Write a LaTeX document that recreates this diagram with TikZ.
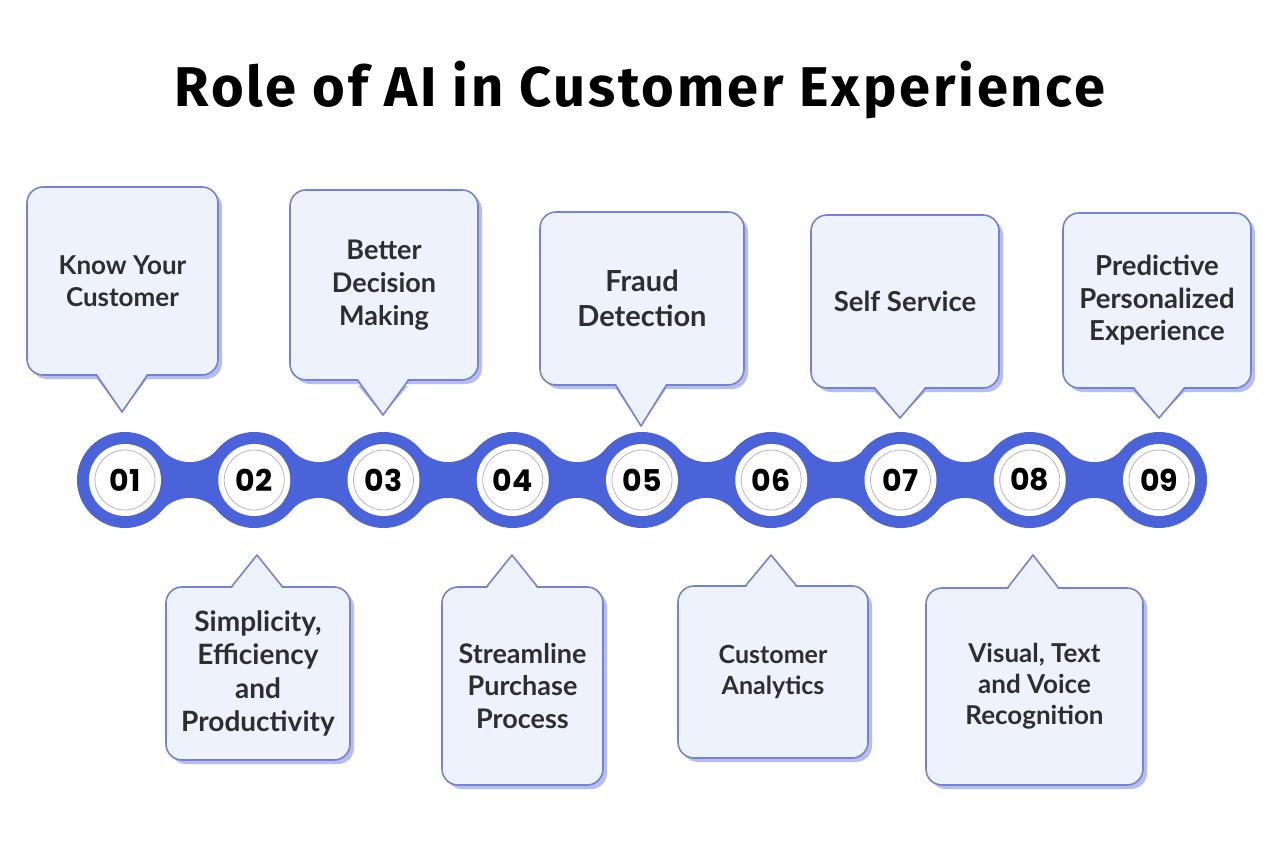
\documentclass[tikz,border=0pt]{standalone}
\usepackage{fontspec}
\setmainfont{Lato}
\newfontfamily\titlefont[LetterSpace=5]{Fira Sans}
\newfontfamily\numfont{Poppins}
\usepackage{xcolor}
\usetikzlibrary{calc,shadows}

\definecolor{chainblue}{HTML}{4A63D8}
\definecolor{boxfill}{HTML}{EEF2FC}
\definecolor{boxline}{HTML}{7482D6}
\definecolor{boxshade}{HTML}{B6BEF0}
\definecolor{ringgray}{HTML}{B4B4CC}
\definecolor{textgray}{HTML}{2E2E2E}

\tikzset{
  bubble/.style={draw=boxline, fill=boxfill, line width=1.6pt, rounded corners=16pt,
    align=center, text=textgray, inner sep=0pt,
    font=\bfseries\fontsize{26}{32}\selectfont,
    drop shadow={shadow xshift=4pt, shadow yshift=-4pt, fill=boxshade, opacity=1}},
  txt/.style 2 args={font=\bfseries\fontsize{#1}{#2}\selectfont},
  tailfill/.style={fill=boxfill},
  tailline/.style={draw=boxline, line width=1.6pt, line join=round},
  tailshade/.style={fill=boxshade, xshift=4pt, yshift=-4pt},
  knob/.style={circle, fill=chainblue, minimum size=96pt, inner sep=0pt},
  face/.style={circle, fill=white, minimum size=72pt, inner sep=0pt,
    font=\numfont\bfseries\fontsize{30}{30}\selectfont},
  ring/.style={draw=ringgray, line width=0.8pt}
}

\begin{document}
\begin{tikzpicture}[x=1pt,y=-1pt]
\useasboundingbox (0,0) rectangle (1280,850);

\node[font=\titlefont\bfseries\fontsize{56}{64}\selectfont] (title) at (640,90) {Role of AI in Customer Experience};

% chain
\fill[chainblue] (161.7,449) rectangle (1122.3,511);
\fill[white] (189.6,425.3) circle (36.7) (189.6,534.7) circle (36.7)
  (318.9,425.3) circle (36.7) (318.9,534.7) circle (36.7)
  (448.1,425.3) circle (36.7) (448.1,534.7) circle (36.7)
  (577.4,425.3) circle (36.7) (577.4,534.7) circle (36.7)
  (706.6,425.3) circle (36.7) (706.6,534.7) circle (36.7)
  (835.9,425.3) circle (36.7) (835.9,534.7) circle (36.7)
  (965.1,425.3) circle (36.7) (965.1,534.7) circle (36.7)
  (1094.4,425.3) circle (36.7) (1094.4,534.7) circle (36.7);

\node[knob] (k1) at (125,480) {};
\node[knob] (k2) at (254.25,480) {};
\node[knob] (k3) at (383.5,480) {};
\node[knob] (k4) at (512.75,480) {};
\node[knob] (k5) at (642,480) {};
\node[knob] (k6) at (771.25,480) {};
\node[knob] (k7) at (900.5,480) {};
\node[knob] (k8) at (1029.75,480) {};
\node[knob] (k9) at (1159,480) {};

\node[face] (n1) at (k1) {01}; \draw[ring] (k1) circle (30);
\node[face] (n2) at (k2) {02}; \draw[ring] (k2) circle (30);
\node[face] (n3) at (k3) {03}; \draw[ring] (k3) circle (30);
\node[face] (n4) at (k4) {04}; \draw[ring] (k4) circle (30);
\node[face] (n5) at (k5) {05}; \draw[ring] (k5) circle (30);
\node[face] (n6) at (k6) {06}; \draw[ring] (k6) circle (30);
\node[face] (n7) at (k7) {07}; \draw[ring] (k7) circle (30);
\node[face] (n8) at (k8) {08}; \draw[ring] (k8) circle (30);
\node[face] (n9) at (k9) {09}; \draw[ring] (k9) circle (30);

% tips of the callouts
\coordinate (t1) at (122,412);
\coordinate (t2) at (257,555);
\coordinate (t3) at (383,415);
\coordinate (t4) at (512,555);
\coordinate (t5) at (641,426);
\coordinate (t6) at (771,555);
\coordinate (t7) at (900,418);
\coordinate (t8) at (1033,555);
\coordinate (t9) at (1159,418);

% upper callouts
\fill[tailshade] ($(t1|-0,375)+(-25,0)$) -- (t1) -- ($(t1|-0,375)+(25,0)$) -- cycle;
\node[bubble, minimum width=191pt, minimum height=188pt] (b1) at (122.5,281) {Know Your\\Customer};
\fill[tailfill] ($(t1|-b1.south)+(-25,-2)$) -- (t1) -- ($(t1|-b1.south)+(25,-2)$) -- cycle;
\draw[tailline] ($(t1|-b1.south)+(-25,0)$) -- (t1) -- ($(t1|-b1.south)+(25,0)$);

\fill[tailshade] ($(t3|-0,382)+(-25,0)$) -- (t3) -- ($(t3|-0,382)+(25,0)$) -- cycle;
\node[bubble, txt={27}{33}, minimum width=188pt, minimum height=190pt] (b3) at (384,285) {Better\\Decision\\Making};
\fill[tailfill] ($(t3|-b3.south)+(-25,-2)$) -- (t3) -- ($(t3|-b3.south)+(25,-2)$) -- cycle;
\draw[tailline] ($(t3|-b3.south)+(-25,0)$) -- (t3) -- ($(t3|-b3.south)+(25,0)$);

\fill[tailshade] ($(t5|-0,385)+(-25,0)$) -- (t5) -- ($(t5|-0,385)+(25,0)$) -- cycle;
\node[bubble, txt={29}{35}, minimum width=204pt, minimum height=173pt] (b5) at (642,298.5) {Fraud\\Detection};
\fill[tailfill] ($(t5|-b5.south)+(-25,-2)$) -- (t5) -- ($(t5|-b5.south)+(25,-2)$) -- cycle;
\draw[tailline] ($(t5|-b5.south)+(-25,0)$) -- (t5) -- ($(t5|-b5.south)+(25,0)$);

\fill[tailshade] ($(t7|-0,388)+(-25,0)$) -- (t7) -- ($(t7|-0,388)+(25,0)$) -- cycle;
\node[bubble, txt={27.5}{33}, minimum width=188pt, minimum height=173pt] (b7) at (905,301.5) {Self Service};
\fill[tailfill] ($(t7|-b7.south)+(-25,-2)$) -- (t7) -- ($(t7|-b7.south)+(25,-2)$) -- cycle;
\draw[tailline] ($(t7|-b7.south)+(-25,0)$) -- (t7) -- ($(t7|-b7.south)+(25,0)$);

\fill[tailshade] ($(t9|-0,388)+(-25,0)$) -- (t9) -- ($(t9|-0,388)+(25,0)$) -- cycle;
\node[bubble, txt={27.5}{32.5}, minimum width=188pt, minimum height=175pt] (b9) at (1157,300.5) {Predictive\\Personalized\\Experience};
\fill[tailfill] ($(t9|-b9.south)+(-25,-2)$) -- (t9) -- ($(t9|-b9.south)+(25,-2)$) -- cycle;
\draw[tailline] ($(t9|-b9.south)+(-25,0)$) -- (t9) -- ($(t9|-b9.south)+(25,0)$);

% lower callouts
\fill[tailshade] ($(t2|-0,587)+(-25,0)$) -- (t2) -- ($(t2|-0,587)+(25,0)$) -- cycle;
\node[bubble, txt={28}{33.5}, minimum width=184pt, minimum height=173pt] (b2) at (258,673.5) {Simplicity,\\Efficiency\\and\\Productivity};
\fill[tailfill] ($(t2|-b2.north)+(-25,2)$) -- (t2) -- ($(t2|-b2.north)+(25,2)$) -- cycle;
\draw[tailline] ($(t2|-b2.north)+(-25,0)$) -- (t2) -- ($(t2|-b2.north)+(25,0)$);

\fill[tailshade] ($(t4|-0,587)+(-25,0)$) -- (t4) -- ($(t4|-0,587)+(25,0)$) -- cycle;
\node[bubble, txt={27}{32.5}, minimum width=161pt, minimum height=198pt] (b4) at (522.5,686) {Streamline\\Purchase\\Process};
\fill[tailfill] ($(t4|-b4.north)+(-25,2)$) -- (t4) -- ($(t4|-b4.north)+(25,2)$) -- cycle;
\draw[tailline] ($(t4|-b4.north)+(-25,0)$) -- (t4) -- ($(t4|-b4.north)+(25,0)$);

\fill[tailshade] ($(t6|-0,588)+(-25,0)$) -- (t6) -- ($(t6|-0,588)+(25,0)$) -- cycle;
\node[bubble, txt={25}{31}, minimum width=190pt, minimum height=172pt] (b6) at (773,672) {Customer\\Analytics};
\fill[tailfill] ($(t6|-b6.north)+(-25,2)$) -- (t6) -- ($(t6|-b6.north)+(25,2)$) -- cycle;
\draw[tailline] ($(t6|-b6.north)+(-25,0)$) -- (t6) -- ($(t6|-b6.north)+(25,0)$);

\fill[tailshade] ($(t8|-0,588)+(-25,0)$) -- (t8) -- ($(t8|-0,588)+(25,0)$) -- cycle;
\node[bubble, txt={26}{31}, minimum width=217pt, minimum height=197pt] (b8) at (1034.5,686.5) {Visual, Text\\and Voice\\Recognition};
\fill[tailfill] ($(t8|-b8.north)+(-25,2)$) -- (t8) -- ($(t8|-b8.north)+(25,2)$) -- cycle;
\draw[tailline] ($(t8|-b8.north)+(-25,0)$) -- (t8) -- ($(t8|-b8.north)+(25,0)$);
\end{tikzpicture}
\end{document}
